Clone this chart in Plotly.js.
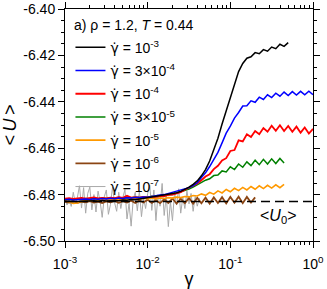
<!DOCTYPE html>
<html>
<head>
<meta charset="utf-8">
<script src="https://cdn.plot.ly/plotly-3.0.1.min.js"></script>
<style>html,body{margin:0;padding:0;background:#fff;}#chart{width:327px;height:289px;}</style>
</head>
<body>
<div id="chart"></div>
<script>
// strain grid, log-spaced 0.05 decade
const gammaGrid = [0.001000,0.001122,0.001259,0.001413,0.001585,0.001778,0.001995,0.002239,0.002512,0.002818,
  0.003162,0.003548,0.003981,0.004467,0.005012,0.005623,0.006310,0.007079,0.007943,0.008913,
  0.01000,0.01122,0.01259,0.01413,0.01585,0.01778,0.01995,0.02239,0.02512,0.02818,
  0.03162,0.03548,0.03981,0.04467,0.05012,0.05623,0.06310,0.07079,0.07943,0.08913,
  0.1000,0.1122,0.1259,0.1413,0.1585,0.1778,0.1995,0.2239,0.2512,0.2818,
  0.3162,0.3548,0.3981,0.4467,0.5012,0.5623,0.6310,0.7079,0.7943,0.8913,1.000];

// finer grid for the 1e-7 run
const gammaFine = [0.001000,0.001059,0.001122,0.001189,0.001259,0.001334,0.001413,0.001496,0.001585,0.001679,
  0.001778,0.001884,0.001995,0.002113,0.002239,0.002371,0.002512,0.002661,0.002818,0.002985,
  0.003162,0.003350,0.003548,0.003758,0.003981,0.004217,0.004467,0.004732,0.005012,0.005309,
  0.005623,0.005957,0.006310,0.006683,0.007079,0.007499,0.007943,0.008414,0.008913,0.009441,
  0.01000,0.01059,0.01122,0.01189,0.01259,0.01334,0.01413,0.01496,0.01585,0.01679,
  0.01778,0.01884,0.01995,0.02113,0.02239,0.02371,0.02512,0.02661,0.02818,0.02985,
  0.03162,0.03350,0.03548,0.03758,0.03981,0.04217];

const U_1e3 = [-6.4829,-6.4830,-6.4828,-6.4830,-6.4829,-6.4828,-6.4830,-6.4827,-6.4829,-6.4826,
  -6.4828,-6.4826,-6.4825,-6.4826,-6.4823,-6.4824,-6.4821,-6.4822,-6.4819,-6.4817,
  -6.4815,-6.4812,-6.4810,-6.4806,-6.4803,-6.4799,-6.4796,-6.4792,-6.4786,-6.4778,
  -6.4768,-6.4756,-6.4741,-6.4719,-6.4692,-6.4655,-6.4606,-6.4557,-6.4496,-6.4440,
  -6.4386,-6.4326,-6.4270,-6.4235,-6.4212,-6.4206,-6.4188,-6.4193,-6.4175,-6.4182,
  -6.4164,-6.4171,-6.4152,-6.4161,-6.4145];

const U_3e4 = [-6.4822,-6.4820,-6.4823,-6.4821,-6.4822,-6.4819,-6.4821,-6.4818,-6.4820,-6.4817,
  -6.4819,-6.4816,-6.4818,-6.4815,-6.4817,-6.4814,-6.4815,-6.4812,-6.4813,-6.4810,
  -6.4811,-6.4807,-6.4806,-6.4802,-6.4800,-6.4795,-6.4792,-6.4787,-6.4782,-6.4776,
  -6.4770,-6.4761,-6.4749,-6.4726,-6.4706,-6.4679,-6.4646,-6.4618,-6.4577,-6.4535,
  -6.4505,-6.4470,-6.4446,-6.4418,-6.4417,-6.4396,-6.4402,-6.4380,-6.4390,-6.4370,
  -6.4382,-6.4363,-6.4376,-6.4358,-6.4373,-6.4356,-6.4371,-6.4355,-6.4370,-6.4354,-6.4369];

const U_1e4 = [-6.4817,-6.4815,-6.4818,-6.4816,-6.4814,-6.4817,-6.4815,-6.4812,-6.4816,-6.4814,
  -6.4816,-6.4813,-6.4815,-6.4811,-6.4814,-6.4805,-6.4813,-6.4811,-6.4813,-6.4810,
  -6.4812,-6.4809,-6.4810,-6.4806,-6.4806,-6.4801,-6.4800,-6.4794,-6.4790,-6.4779,
  -6.4770,-6.4762,-6.4752,-6.4738,-6.4722,-6.4712,-6.4690,-6.4676,-6.4653,-6.4643,
  -6.4612,-6.4608,-6.4566,-6.4571,-6.4540,-6.4552,-6.4526,-6.4540,-6.4513,-6.4529,
  -6.4503,-6.4525,-6.4501,-6.4526,-6.4504,-6.4529,-6.4507,-6.4533,-6.4511,-6.4537,-6.4517];

const U_3e5 = [-6.4819,-6.4818,-6.4820,-6.4818,-6.4819,-6.4817,-6.4819,-6.4816,-6.4818,-6.4815,
  -6.4817,-6.4814,-6.4816,-6.4813,-6.4815,-6.4812,-6.4814,-6.4811,-6.4813,-6.4809,
  -6.4811,-6.4807,-6.4809,-6.4805,-6.4806,-6.4801,-6.4800,-6.4794,-6.4790,-6.4783,
  -6.4776,-6.4768,-6.4758,-6.4750,-6.4738,-6.4732,-6.4718,-6.4716,-6.4698,-6.4702,
  -6.4680,-6.4692,-6.4668,-6.4682,-6.4659,-6.4675,-6.4652,-6.4671,-6.4648,-6.4668,
  -6.4646,-6.4666,-6.4644,-6.4664];

const U_1e5 = [-6.4826,-6.4832,-6.4838,-6.4836,-6.4829,-6.4824,-6.4827,-6.4822,-6.4825,-6.4821,
  -6.4824,-6.4820,-6.4823,-6.4819,-6.4822,-6.4818,-6.4821,-6.4817,-6.4820,-6.4816,
  -6.4819,-6.4815,-6.4818,-6.4814,-6.4817,-6.4813,-6.4815,-6.4811,-6.4813,-6.4808,
  -6.4810,-6.4804,-6.4806,-6.4797,-6.4803,-6.4791,-6.4798,-6.4784,-6.4793,-6.4778,
  -6.4788,-6.4773,-6.4783,-6.4769,-6.4780,-6.4765,-6.4777,-6.4762,-6.4774,-6.4760,
  -6.4772,-6.4758,-6.4770,-6.4756];

const U_1e6 = [-6.4831,-6.4834,-6.4829,-6.4835,-6.4830,-6.4833,-6.4828,-6.4834,-6.4830,-6.4836,
  -6.4829,-6.4833,-6.4827,-6.4835,-6.4828,-6.4834,-6.4826,-6.4836,-6.4825,-6.4834,
  -6.4822,-6.4836,-6.4824,-6.4837,-6.4820,-6.4836,-6.4817,-6.4839,-6.4818,-6.4837,
  -6.4815,-6.4839,-6.4814,-6.4837,-6.4813,-6.4839,-6.4812,-6.4836,-6.4811,-6.4838,
  -6.4810,-6.4835,-6.4809,-6.4837,-6.4810,-6.4834,-6.4812];

const U_1e7 = [-6.4822,-6.4845,-6.4818,-6.4851,-6.4790,-6.4838,-6.4812,-6.4762,-6.4858,-6.4770,
  -6.4880,-6.4795,-6.4768,-6.4866,-6.4800,-6.4875,-6.4785,-6.4830,-6.4898,-6.4810,
  -6.4780,-6.4885,-6.4842,-6.4768,-6.4835,-6.4872,-6.4790,-6.4860,-6.4812,-6.4778,
  -6.4905,-6.4838,-6.4936,-6.4822,-6.4790,-6.4870,-6.4783,-6.4895,-6.4815,-6.4860,
  -6.4795,-6.4758,-6.4868,-6.4780,-6.4912,-6.4800,-6.4850,-6.4752,-6.4890,-6.4805,
  -6.4938,-6.4830,-6.4912,-6.4790,-6.4845,-6.4775,-6.4880,-6.4812,-6.4860,-6.4785,
  -6.4840,-6.4795,-6.4872,-6.4808,-6.4850,-6.4815];

const U0 = -6.4830;
const U0range = [0.001, 1];

const GD = '<span style="font-family:DejaVu Sans">γ\u0307</span>';
const seriesLabels = ['10<sup>-3</sup>','3×10<sup>-4</sup>','10<sup>-4</sup>','3×10<sup>-5</sup>',
  '10<sup>-5</sup>','10<sup>-6</sup>','10<sup>-7</sup>'];
const seriesColors = ['#000000','#0000ff','#ff0000','#008000','#ff9900','#8b4513','#aaaaaa'];
const seriesWidths = [1.5, 1.5, 1.8, 1.5, 1.6, 1.8, 1];
const seriesY = [U_1e3, U_3e4, U_1e4, U_3e5, U_1e5, U_1e6, U_1e7];

const xTickVals = [0.001, 0.01, 0.1, 1];
const xTickText = ['10<sup>-3</sup>','10<sup>-2</sup>','10<sup>-1</sup>','10<sup>0</sup>'];
const yTickVals = [-6.50, -6.48, -6.46, -6.44, -6.42, -6.40];
const yTickText = ['-6.50','-6.48','-6.46','-6.44','-6.42','-6.40'];

const FONT = 'Liberation Sans, Arial, Helvetica, sans-serif';

const traces = [];
const order = [6,5,4,3,2,1,0];
order.forEach(i => {
  const y = seriesY[i];
  const x = (i === 6) ? gammaFine.slice(0, y.length) : gammaGrid.slice(0, y.length);
  traces.push({
    x: x, y: y, type: 'scatter', mode: 'lines', name: GD + ' = ' + seriesLabels[i],
    line: {color: seriesColors[i], width: seriesWidths[i]},
    legendrank: i + 1, legendgroup: 'g' + i
  });
});
traces.push({
  x: U0range, y: [U0, U0], type: 'scatter', mode: 'lines', showlegend: false,
  line: {color: '#000', width: 1.5, dash: '9px,5px'}
});

const layout = {
  width: 327, height: 289,
  margin: {l: 65, r: 14, t: 9, b: 48},
  paper_bgcolor: '#fff', plot_bgcolor: '#fff',
  font: {family: FONT, size: 14, color: '#000'},
  showlegend: true,
  legend: {x: 0.022, y: 0.902, xanchor: 'left', yanchor: 'top', bgcolor: 'rgba(0,0,0,0)',
    font: {family: FONT, size: 14}, tracegroupgap: 2, traceorder: 'grouped'},
  xaxis: {
    type: 'log', range: [-3, 0], tickmode: 'array', tickvals: xTickVals, ticktext: xTickText,
    ticks: 'outside', ticklen: 6, tickwidth: 1, tickcolor: '#000', ticklabelstandoff: 4,
    showline: true, linecolor: '#000', linewidth: 1, mirror: 'ticks',
    showgrid: false, zeroline: false,
    minor: {ticks: 'outside', ticklen: 3, tickwidth: 1, tickcolor: '#000', dtick: 'D1', showgrid: false},
    tickfont: {family: FONT, size: 14},
    title: {text: 'γ', font: {family: FONT, size: 18}, standoff: 2}
  },
  yaxis: {
    range: [-6.50, -6.40], tickmode: 'array', tickvals: yTickVals, ticktext: yTickText,
    ticks: 'outside', ticklen: 6, tickwidth: 1, tickcolor: '#000',
    showline: true, linecolor: '#000', linewidth: 1, mirror: 'ticks',
    showgrid: false, zeroline: false,
    minor: {tickmode: 'linear', tick0: -6.50, dtick: 0.005, ticks: 'outside', ticklen: 3, tickwidth: 1, tickcolor: '#000', showgrid: false},
    tickfont: {family: FONT, size: 14},
    title: {text: '&lt;\u2009<i>U</i>\u2009&gt;', font: {family: FONT, size: 18}, standoff: 6}
  },
  annotations: [
    {xref: 'paper', yref: 'paper', x: 0.03, y: 0.931, xanchor: 'left', yanchor: 'middle', showarrow: false,
     text: 'a) ρ = 1.2, <i>T</i> = 0.44', font: {family: FONT, size: 14}},
    {xref: 'x', yref: 'y', x: -0.427, y: -6.4895, xanchor: 'center', yanchor: 'middle', showarrow: false,
     text: '&lt;<i>U</i><sub>0</sub>&gt;', font: {family: FONT, size: 16}}
  ]
};

Plotly.newPlot('chart', traces, layout, {displayModeBar: false, staticPlot: true});
</script>
</body>
</html>
